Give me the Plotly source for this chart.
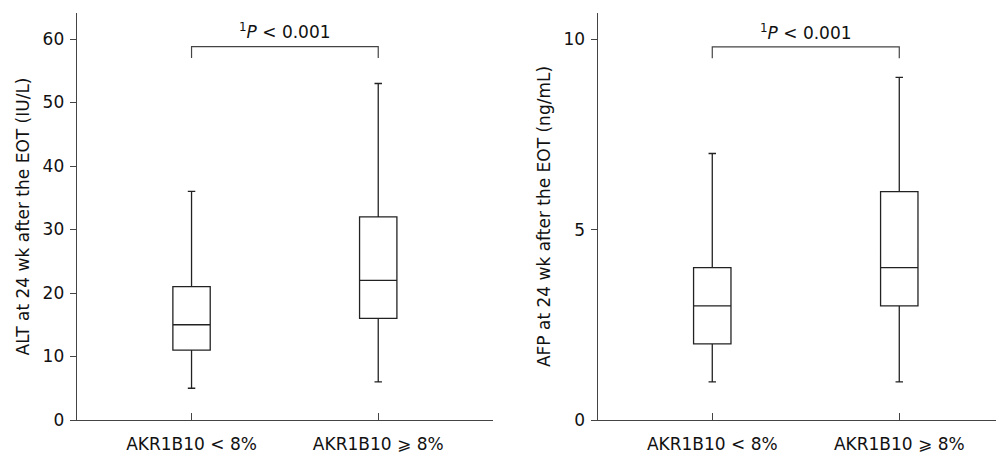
import plotly.graph_objects as go

categories = ["AKR1B10 < 8%", "AKR1B10 ⩾ 8%"]
tick_text = ["AKR1B10 &lt; 8%", "AKR1B10 ⩾ 8%"]

# ALT panel (IU/L)
alt_lower = [5, 6]
alt_q1 = [11, 16]
alt_median = [15, 22]
alt_q3 = [21, 32]
alt_upper = [36, 53]
alt_bracket = [57.0, 58.8, 61.2]  # bottom of legs, bar, text

# AFP panel (ng/mL)
afp_lower = [1, 1]
afp_q1 = [2, 3]
afp_median = [3, 4]
afp_q3 = [4, 6]
afp_upper = [7, 9]
afp_bracket = [9.5, 9.8, 10.2]

p_text = "<sup>1</sup><i>P</i> &lt; 0.001"

FONT = "DejaVu Sans"
FS = 17
LINE = "#222222"
AX = "#444444"

fig = go.Figure()

def add_box(xa, ya, lo, q1, med, q3, hi):
    fig.add_trace(go.Box(
        x=categories, lowerfence=lo, q1=q1, median=med, q3=q3, upperfence=hi,
        xaxis=xa, yaxis=ya, fillcolor="white",
        line=dict(color=LINE, width=1.3), whiskerwidth=0.2, width=0.2,
        boxpoints=False, showlegend=False, hoverinfo="skip"))

add_box("x", "y", alt_lower, alt_q1, alt_median, alt_q3, alt_upper)
add_box("x2", "y2", afp_lower, afp_q1, afp_median, afp_q3, afp_upper)

def add_bracket(xr, yr, b):
    lo, bar, txt = b
    fig.add_shape(type="path", xref=xr, yref=yr,
                  path=f"M 0 {lo} L 0 {bar} L 1 {bar} L 1 {lo}",
                  line=dict(color=AX, width=1.2))
    fig.add_annotation(x=0.5, y=txt, xref=xr, yref=yr, text=p_text,
                       showarrow=False, font=dict(family=FONT, size=FS, color="#111"))

add_bracket("x", "y", alt_bracket)
add_bracket("x2", "y2", afp_bracket)

xcommon = dict(type="category", tickvals=categories, ticktext=tick_text,
               ticks="inside", ticklen=7, tickcolor=AX, showline=True,
               linecolor=AX, linewidth=1.2, showgrid=False, zeroline=False,
               automargin=False, ticklabelstandoff=8,
               tickfont=dict(family=FONT, size=FS, color="#111"))
ycommon = dict(ticks="outside", ticklen=6, tickcolor=AX, showline=True,
               linecolor=AX, linewidth=1.2, showgrid=False, zeroline=False,
               automargin=False, ticklabelstandoff=2,
               tickfont=dict(family=FONT, size=FS, color="#111"),
               title_font=dict(family=FONT, size=FS, color="#111"))

fig.update_layout(
    width=996, height=446,
    margin=dict(l=0, r=0, t=5, b=34),
    paper_bgcolor="white", plot_bgcolor="white",
    xaxis=dict(domain=[0.069, 0.487], range=[-0.615, 1.615], **xcommon),
    xaxis2=dict(domain=[0.592, 1.0], range=[-0.613, 1.56], anchor="y2", **xcommon),
    yaxis=dict(range=[0, 64.1], tickvals=[0, 10, 20, 30, 40, 50, 60],
               title=dict(text="ALT at 24 wk after the EOT (IU/L)", standoff=8), **ycommon),
    yaxis2=dict(range=[0, 10.69], tickvals=[0, 5, 10], anchor="x2",
                title=dict(text="AFP at 24 wk after the EOT (ng/mL)", standoff=8), **ycommon),
)

fig.write_html("out.html")
